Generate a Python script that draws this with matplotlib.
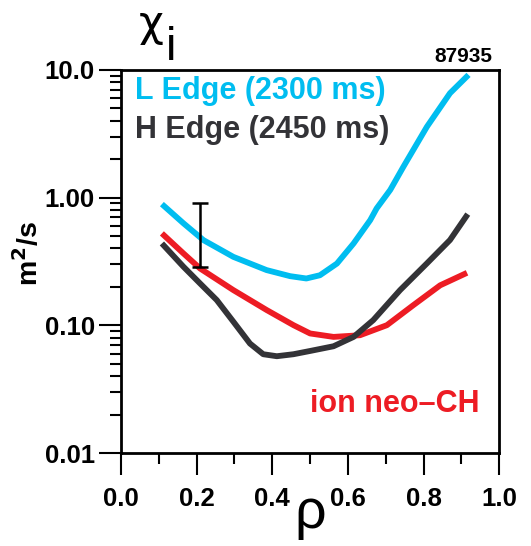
import matplotlib
matplotlib.use('Agg')
import matplotlib.pyplot as plt
from matplotlib.ticker import FixedLocator, LogLocator, NullFormatter
import numpy as np

# values
rho_l = [0.108, 0.165, 0.218, 0.297, 0.385, 0.447, 0.49, 0.526, 0.571, 0.615, 0.659, 0.676, 0.712, 0.747, 0.809, 0.870, 0.919]
chi_l = [0.89, 0.63, 0.465, 0.344, 0.271, 0.243, 0.233, 0.247, 0.305, 0.438, 0.667, 0.824, 1.15, 1.75, 3.59, 6.57, 9.14]

rho_h = [0.108, 0.165, 0.209, 0.253, 0.297, 0.341, 0.376, 0.412, 0.456, 0.5, 0.562, 0.615, 0.667, 0.738, 0.809, 0.870, 0.917]
chi_h = [0.438, 0.288, 0.213, 0.158, 0.107, 0.0721, 0.0595, 0.0574, 0.0595, 0.0631, 0.0687, 0.0813, 0.110, 0.189, 0.306, 0.466, 0.743]

rho_neo = [0.108, 0.165, 0.209, 0.297, 0.385, 0.456, 0.5, 0.562, 0.632, 0.703, 0.773, 0.844, 0.915]
chi_neo = [0.525, 0.366, 0.279, 0.189, 0.132, 0.1005, 0.0865, 0.0813, 0.0838, 0.1004, 0.144, 0.206, 0.258]

err_x = 0.209
err_lo = 0.285
err_hi = 0.91

shot = '87935'
ytick_vals = [0.01, 0.1, 1.0, 10.0]
ytick_labels = ['0.01', '0.10', '1.00', '10.0']
xtick_vals = [0.0, 0.2, 0.4, 0.6, 0.8, 1.0]
xminor_vals = [0.1, 0.3, 0.5, 0.7, 0.9]

FONT = 'Liberation Sans'
CYAN = '#00bdf0'
DARK = '#333337'
RED = '#ed1c24'
tk = 18.5
lab = 22

fig = plt.figure(figsize=(5.31, 5.46), dpi=100)
ax = fig.add_axes([0.228, 0.170, 0.712, 0.702])

line_kw = dict(lw=4.2, solid_capstyle='butt', solid_joinstyle='round')
ax.plot(rho_l, chi_l, color=CYAN, **line_kw)
ax.plot(rho_neo, chi_neo, color=RED, **line_kw)
ax.plot(rho_h, chi_h, color=DARK, **line_kw)

mid = np.sqrt(err_lo * err_hi)
ax.errorbar([err_x], [mid], yerr=[[mid - err_lo], [err_hi - mid]],
            fmt='none', ecolor='black', elinewidth=1.8, capsize=6, capthick=1.8)

ax.set_yscale('log')
ax.set_xlim(0, 1.0)
ax.set_ylim(0.01, 10.0)
ax.yaxis.set_major_locator(FixedLocator(ytick_vals))
ax.set_yticklabels(ytick_labels)
ax.yaxis.set_minor_locator(LogLocator(base=10, subs=np.arange(2, 10)))
ax.yaxis.set_minor_formatter(NullFormatter())
ax.set_xticks(xtick_vals)
ax.set_xticklabels(['%.1f' % v for v in xtick_vals])
ax.xaxis.set_minor_locator(FixedLocator(xminor_vals))

for s in ax.spines.values():
    s.set_linewidth(2)
ax.tick_params(which='major', direction='out', length=16, width=1.5)
ax.tick_params(which='minor', direction='out', length=8, width=1.5)
ax.tick_params(axis='y', which='major', pad=3)
ax.tick_params(axis='x', which='major', pad=8)
for t in ax.get_xticklabels() + ax.get_yticklabels():
    t.set_fontfamily(FONT)
    t.set_fontweight('bold')
    t.set_fontsize(tk)

ax.text(0.036, 0.945, 'L Edge (2300 ms)', transform=ax.transAxes, color=CYAN,
        fontsize=lab, fontweight='bold', family=FONT, va='center', ha='left')
ax.text(0.036, 0.843, 'H Edge (2450 ms)', transform=ax.transAxes, color=DARK,
        fontsize=lab, fontweight='bold', family=FONT, va='center', ha='left')
ax.text(0.50, 0.128, 'ion neo\u2013CH', transform=ax.transAxes, color=RED,
        fontsize=lab, fontweight='bold', family=FONT, va='center', ha='left')

fig.text(492 / 531, 1 - 62 / 546, shot, ha='right', va='baseline',
         fontsize=15, fontweight='bold', family=FONT)
fig.text(139 / 531, 1 - 36 / 546, '\u03c7', ha='left', va='baseline',
         fontsize=31, family='DejaVu Sans')
fig.text(166 / 531, 1 - 60 / 546, 'i', ha='left', va='baseline',
         fontsize=34, family=FONT)
fig.text(310 / 531, 1 - 528 / 546, '\u03c1', ha='center', va='baseline',
         fontsize=40, family=FONT)
fig.text(29 / 531, 1 - 254 / 546, 'm$^\\mathbf{2}$/s', ha='center', va='center',
         rotation=90, fontsize=20.5, fontweight='bold', family=FONT)

fig.savefig('out.png', dpi=100)
